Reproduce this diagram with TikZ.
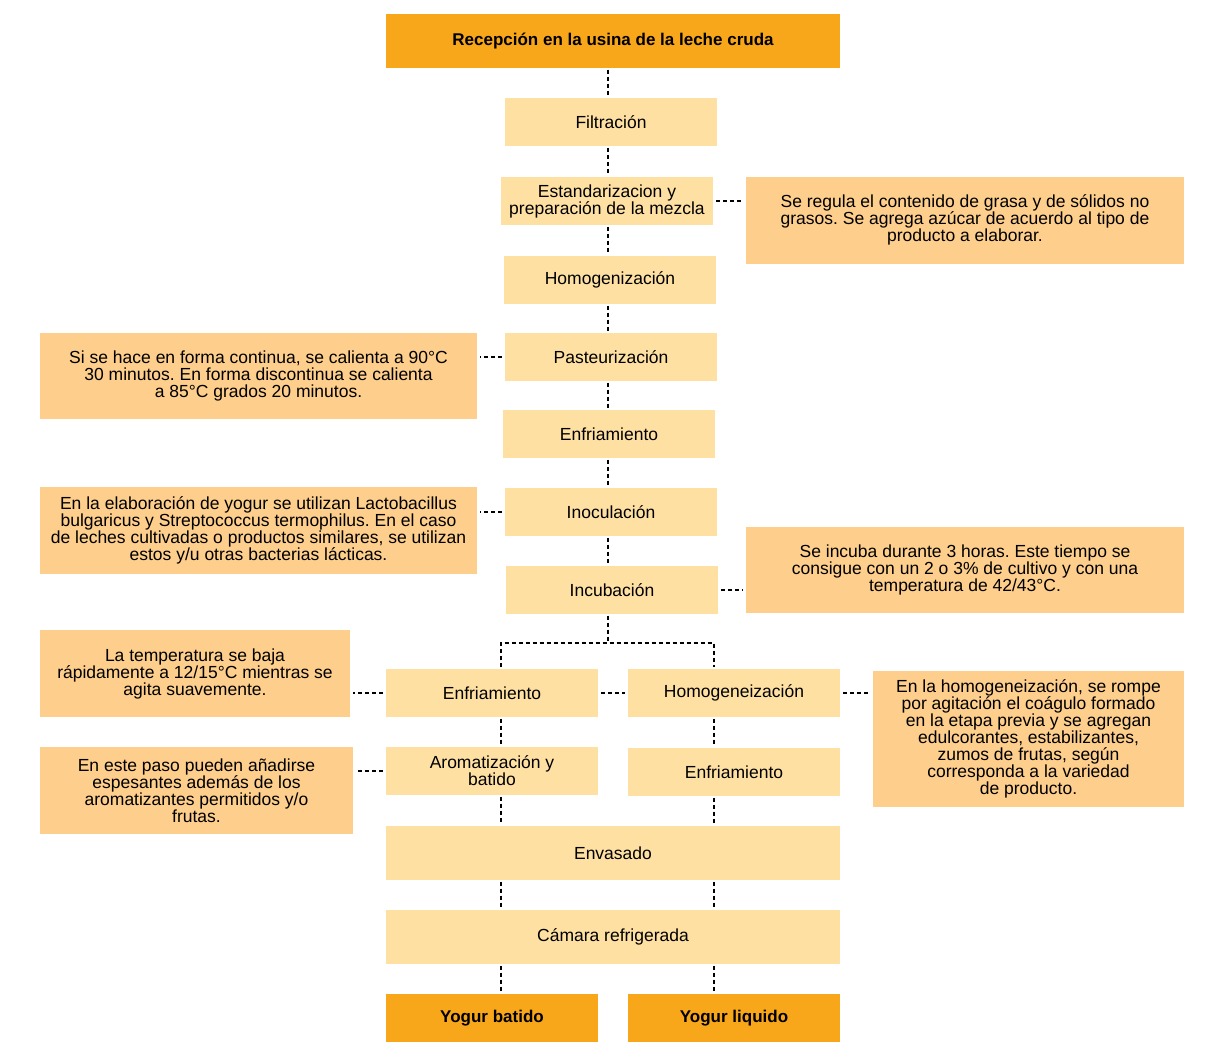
\documentclass[tikz,border=0pt]{standalone}
\usepackage{fontspec}
\setmainfont{Liberation Sans}
\usepackage{xcolor}
\usetikzlibrary{positioning}
\frenchspacing

\definecolor{naranja}{RGB}{248,167,27}
\definecolor{crema}{RGB}{254,224,163}
\definecolor{durazno}{RGB}{253,206,140}

\begin{document}
\begin{tikzpicture}[x=1pt,y=-1pt,
  paso/.style={fill=crema, minimum width=212pt, minimum height=48pt, inner sep=2pt,
    align=center, font=\fontsize{17.5}{17}\selectfont},
  ancho/.style={paso, minimum width=454pt, minimum height=54pt},
  inicio/.style={ancho, fill=naranja, font=\fontsize{17}{17}\selectfont\bfseries},
  fin/.style={paso, fill=naranja, font=\fontsize{17}{17}\selectfont\bfseries},
  nota/.style={fill=durazno, inner sep=2pt, align=center, font=\fontsize{17.5}{17}\selectfont},
  conector/.style={draw=black, line width=1.6pt, dash pattern=on 4pt off 3pt},
  vert/.style={conector, shorten <=1.5pt, shorten >=1.5pt},
  horiz/.style={conector, shorten <=3pt, shorten >=3pt}]
  \useasboundingbox (0,0) rectangle (1224,1063);
  % Columns of the dashed connectors
  \coordinate (ejeC) at (608,0);
  \coordinate (ejeL) at (501,0);
  \coordinate (ejeR) at (714,0);
  % Main line of steps
  \node[inicio] (recep) at (613,41) {Recepción en la usina de la leche cruda};
  \node[paso] (filt) at (611,122) {Filtración};
  \node[paso] (estand) at (607,201) {Estandarizacion y\\preparación de la mezcla};
  \node[paso] (homog) at (610,280) {Homogenización};
  \node[paso] (paste) at (611,357) {Pasteurización};
  \node[paso] (enfr) at (609,434) {Enfriamiento};
  \node[paso] (inoc) at (611,512) {Inoculación};
  \node[paso] (incub) at (612,590) {Incubación};
  % Two branches
  \node[paso] (enfrL) at (492,693) {Enfriamiento};
  \node[paso] (homR) at (734,693) {Homogeneización};
  \node[paso] (arom) at (492,771) {Aromatización y\\batido};
  \node[paso] (enfrR) at (734,772) {Enfriamiento};
  \node[ancho] (envas) at (613,853) {Envasado};
  \node[ancho] (camara) at (613,937) {Cámara refrigerada};
  \node[fin] (batido) at (492,1018) {Yogur batido};
  \node[fin] (liquido) at (734,1018) {Yogur liquido};
  % Notes
  \node[nota, minimum width=438pt, minimum height=87pt] (nGrasa) at (965,220)
    {Se regula el contenido de grasa y de sólidos no\\grasos. Se agrega azúcar de acuerdo al tipo de\\producto a elaborar.};
  \node[nota, minimum width=437pt, minimum height=86pt] (nPaste) at (258.5,376)
    {Si se hace en forma continua, se calienta a 90°C\\30 minutos. En forma discontinua se calienta\\a 85°C grados 20 minutos.};
  \node[nota, minimum width=437pt, minimum height=87pt] (nInoc) at (258.5,530.5)
    {En la elaboración de yogur se utilizan Lactobacillus\\bulgaricus y Streptococcus termophilus. En el caso\\de leches cultivadas o productos similares, se utilizan\\estos y/u otras bacterias lácticas.};
  \node[nota, minimum width=438pt, minimum height=86pt] (nIncub) at (965,570)
    {Se incuba durante 3 horas. Este tiempo se\\consigue con un 2 o 3\% de cultivo y con una\\temperatura de 42/43°C.};
  \node[nota, minimum width=310pt, minimum height=87pt] (nEnfr) at (195,673.5)
    {La temperatura se baja\\rápidamente a 12/15°C mientras se\\agita suavemente.};
  \node[nota, minimum width=311pt, minimum height=136pt] (nHomog) at (1028.5,739)
    {En la homogeneización, se rompe\\por agitación el coágulo formado\\en la etapa previa y se agregan\\edulcorantes, estabilizantes,\\zumos de frutas, según\\corresponda a la variedad\\de producto.};
  \node[nota, minimum width=313pt, minimum height=87pt] (nArom) at (196.5,790.5)
    {En este paso pueden añadirse\\espesantes además de los\\aromatizantes permitidos y/o\\frutas.};
  % Vertical connectors
  \foreach \a/\b in {recep/filt, filt/estand, estand/homog, homog/paste, paste/enfr, enfr/inoc, inoc/incub}
    \draw[vert] (\a.south -| ejeC) -- (\b.north -| ejeC);
  \coordinate (split) at (608,643);
  \draw[conector, shorten <=1.5pt] (incub.south -| ejeC) -- (split);
  \draw[vert] (enfrL.north -| ejeL) |- (split) -| (homR.north -| ejeR);
  \foreach \a/\b in {enfrL/arom, arom/envas, envas/camara, camara/batido}
    \draw[vert] (\a.south -| ejeL) -- (\b.north -| ejeL);
  \foreach \a/\b in {homR/enfrR, enfrR/envas, envas/camara, camara/liquido}
    \draw[vert] (\a.south -| ejeR) -- (\b.north -| ejeR);
  % Horizontal connectors to the notes
  \draw[horiz] (estand.east) -- (estand.east -| nGrasa.west);
  \draw[horiz] (paste.west) -- (paste.west -| nPaste.east);
  \draw[horiz] (inoc.west) -- (inoc.west -| nInoc.east);
  \draw[horiz] (incub.east) -- (incub.east -| nIncub.west);
  \draw[horiz] (enfrL.west) -- (enfrL.west -| nEnfr.east);
  \draw[horiz] (enfrL.east) -- (homR.west);
  \draw[horiz] (homR.east) -- (homR.east -| nHomog.west);
  \draw[horiz] (arom.west) -- (arom.west -| nArom.east);
\end{tikzpicture}
\end{document}
